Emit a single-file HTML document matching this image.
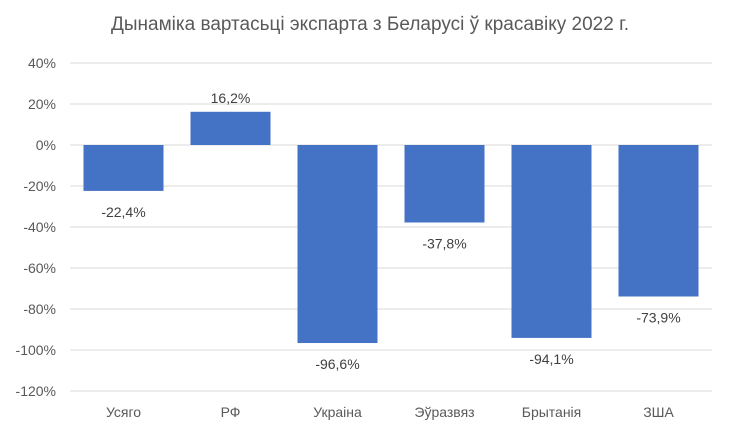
<!DOCTYPE html>
<html><head><meta charset="utf-8"><style>
body{margin:0;background:#fff;}
svg text{font-family:"Liberation Sans",sans-serif;}
</style></head><body>
<svg id="chart" width="732" height="437" viewBox="0 0 732 437" xmlns="http://www.w3.org/2000/svg">
<rect width="732" height="437" fill="#fff"/>
<text x="370" y="30" text-anchor="middle" font-size="19" fill="#595959">Дынаміка вартасьці экспарта з Беларусі ў красавіку 2022 г.</text>
<g id="grid"></g><g id="bars"></g>
</svg>
<script>
const categories=["Усяго","РФ","Украіна","Эўразвяз","Брытанія","ЗША"];
const values=[-22.4,16.2,-96.6,-37.8,-94.1,-73.9];
const valueLabels=["-22,4%","16,2%","-96,6%","-37,8%","-94,1%","-73,9%"];
const ticks=[40,20,0,-20,-40,-60,-80,-100,-120];
const tickLabels=["40%","20%","0%","-20%","-40%","-60%","-80%","-100%","-120%"];
const ns="http://www.w3.org/2000/svg";
const L=70,R=712,y0=145,k=41/20;
const y=v=>y0-v*k;
const bw=(R-L)/categories.length;
const x=i=>L+bw*(i+0.5);
function mk(t,a,p){const e=document.createElementNS(ns,t);for(const n in a)e.setAttribute(n,a[n]);p.appendChild(e);return e;}
const g=document.getElementById('grid'),b=document.getElementById('bars');
ticks.forEach((t,i)=>{
 const l=mk('line',{x1:L,x2:R,y1:y(t),y2:y(t),stroke:'#d9d9d9','stroke-width':1},g);
 
 
 const tx=mk('text',{x:56,y:y(t)+5,'text-anchor':'end','font-size':14,fill:'#595959'},g);
 tx.textContent=tickLabels[i];
 
 
});
categories.forEach((c,i)=>{
 const v=values[i];
 const r=mk('rect',{x:x(i)-40,width:80,y:Math.min(y(v),y0),height:Math.abs(y(v)-y0),fill:'#4472C4'},b);
 
 
 const lt=mk('text',{x:x(i),y:v>=0?y(v)-9:y(v)+26,'text-anchor':'middle','font-size':14,fill:'#404040'},b);
 lt.textContent=valueLabels[i];
 
 
 const ct=mk('text',{x:x(i),y:417,'text-anchor':'middle','font-size':14,fill:'#595959'},b);
 ct.textContent=c;
 
 
});
</script>
</body></html>
